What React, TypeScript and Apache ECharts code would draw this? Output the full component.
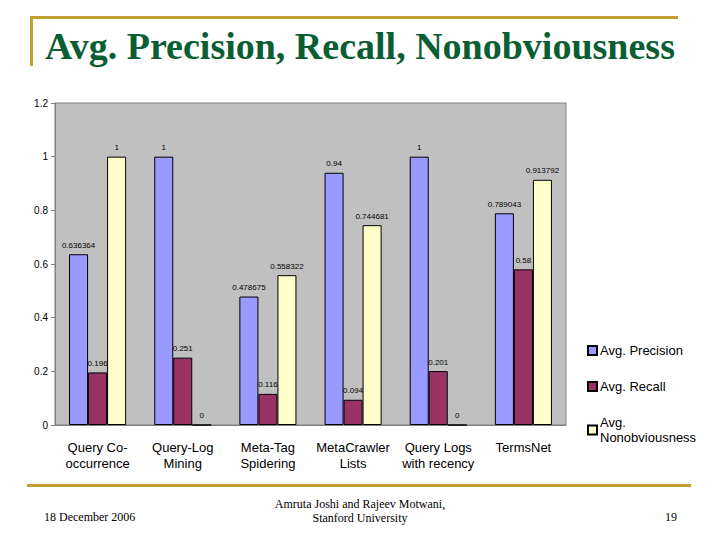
import React, { useEffect, useRef } from "react";
import * as echarts from "echarts";

const categories = [
  "Query Co-\noccurrence",
  "Query-Log\nMining",
  "Meta-Tag\nSpidering",
  "MetaCrawler\nLists",
  "Query Logs\nwith recency",
  "TermsNet",
];
const precision = [0.636364, 1, 0.478675, 0.94, 1, 0.789043];
const recall = [0.196, 0.251, 0.116, 0.094, 0.201, 0.58];
const nonobviousness = [1, 0, 0.558322, 0.744681, 0, 0.913792];
const yTicks = ["0", "0.2", "0.4", "0.6", "0.8", "1", "1.2"];

const GOLD = "#c0a030";
const SANS = "'Liberation Sans', Arial, sans-serif";
const SERIF = "'Liberation Serif', 'Times New Roman', serif";

const App: React.FC = () => {
  const chartRef = useRef<HTMLDivElement>(null);

  useEffect(() => {
    if (!chartRef.current) return;
    const myChart = echarts.init(chartRef.current, undefined, { renderer: "svg" });

    const barSeries = (name: string, data: number[], color: string) => ({
      name,
      type: "bar",
      data,
      barGap: "0%",
      barCategoryGap: "33%",
      itemStyle: { color, borderColor: "#000", borderWidth: 1 },
      label: {
        show: true,
        position: "top",
        distance: 5,
        fontSize: 8,
        fontFamily: SANS,
        color: "#000",
        formatter: (p: any) => String(p.value),
      },
    });

    const option = {
      animation: false,
      backgroundColor: "#fff",
      textStyle: { fontFamily: SANS },
      grid: {
        left: 55,
        top: 103,
        width: 511,
        height: 322,
        show: true,
        backgroundColor: "#c0c0c0",
        borderColor: "#808080",
        borderWidth: 1,
      },
      legend: {
        orient: "vertical",
        left: 582,
        top: 338,
        itemGap: 21,
        itemWidth: 9,
        itemHeight: 9,
        icon: "rect",
        textStyle: {
          fontSize: 13,
          lineHeight: 15,
          fontFamily: SANS,
          color: "#000",
          padding: [0, 0, 0, -2],
        },
        data: ["Avg. Precision", "Avg. Recall", "Avg.\nNonobviousness"],
      },
      xAxis: {
        type: "category",
        data: categories,
        axisLine: { lineStyle: { color: "#808080" } },
        axisTick: { show: false },
        axisLabel: {
          interval: 0,
          margin: 14,
          fontSize: 13,
          lineHeight: 16,
          fontFamily: SANS,
          color: "#000",
        },
      },
      yAxis: {
        type: "value",
        min: 0,
        max: 1.2,
        interval: 0.2,
        splitLine: { show: false },
        axisLine: { show: true, lineStyle: { color: "#808080" } },
        axisTick: { show: true, length: 4, lineStyle: { color: "#808080" } },
        axisLabel: {
          margin: 7,
          fontSize: 10,
          fontFamily: SANS,
          color: "#000",
          formatter: (v: number) => yTicks[Math.round(v / 0.2)],
        },
      },
      series: [
        barSeries("Avg. Precision", precision, "#9999ff"),
        barSeries("Avg. Recall", recall, "#993366"),
        barSeries("Avg.\nNonobviousness", nonobviousness, "#ffffcc"),
      ],
      graphic: [
        { type: "rect", shape: { x: 30, y: 16, width: 648, height: 3 }, style: { fill: GOLD } },
        { type: "rect", shape: { x: 30, y: 16, width: 3, height: 50 }, style: { fill: GOLD } },
        {
          type: "text",
          x: 360,
          y: 46,
          style: {
            text: "Avg. Precision, Recall, Nonobviousness",
            font: `bold 38px ${SERIF}`,
            fill: "#0b5e34",
            align: "center",
            verticalAlign: "middle",
          },
        },
        { type: "rect", shape: { x: 27, y: 484, width: 664, height: 3 }, style: { fill: GOLD } },
        {
          type: "text",
          x: 44,
          y: 517,
          style: {
            text: "18 December 2006",
            font: `12px ${SERIF}`,
            fill: "#000",
            verticalAlign: "middle",
          },
        },
        {
          type: "text",
          x: 360,
          y: 511,
          style: {
            text: "Amruta Joshi and Rajeev Motwani,\nStanford University",
            font: `12px ${SERIF}`,
            lineHeight: 14,
            fill: "#000",
            align: "center",
            verticalAlign: "middle",
          },
        },
        {
          type: "text",
          x: 677,
          y: 517,
          style: {
            text: "19",
            font: `12px ${SERIF}`,
            fill: "#000",
            align: "right",
            verticalAlign: "middle",
          },
        },
      ],
    };

    myChart.setOption(option);
    return () => {
      myChart.dispose();
    };
  }, []);

  return (
    <div
      ref={chartRef}
      style={{ position: "absolute", left: 0, top: 0, width: "720px", height: "540px" }}
    />
  );
};

export default App;
